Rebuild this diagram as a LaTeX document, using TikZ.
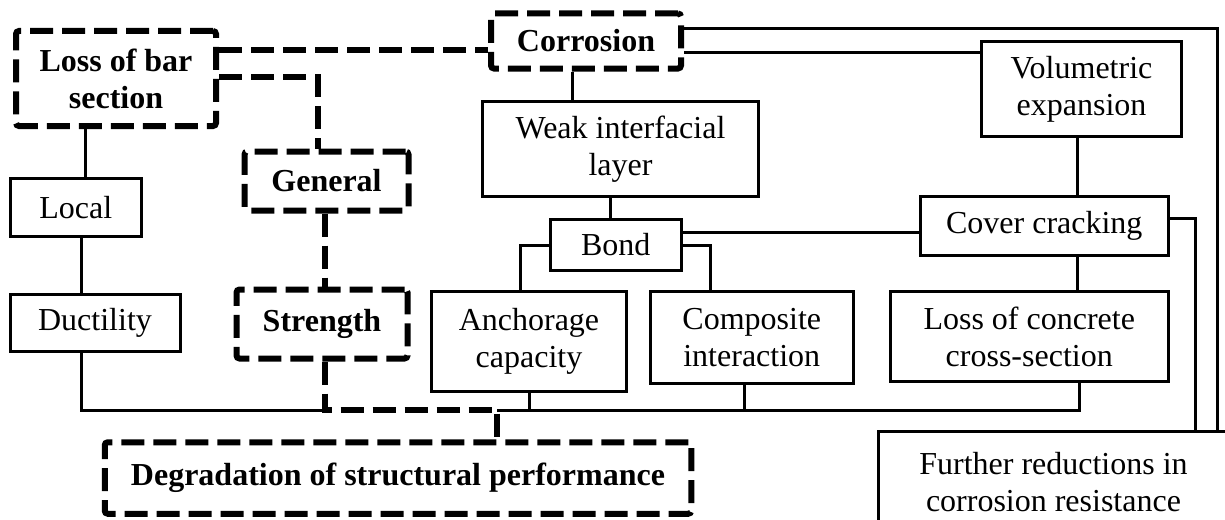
\documentclass[tikz,border=0pt]{standalone}
\usepackage{fontspec}
\setmainfont{Liberation Serif}
\tikzset{
  sbox/.style={draw, line width=3pt, inner sep=0pt, align=center, font=\fontsize{32}{37}\selectfont},
  dbox/.style={draw, line width=6pt, dash pattern=on 23pt off 9pt, rounded corners=3pt, inner sep=0pt, align=center, font=\fontsize{32}{37}\selectfont\bfseries},
  sl/.style={line width=3pt},
  dl/.style={line width=6pt, dash pattern=on 23pt off 9pt},
}
\begin{document}
\begin{tikzpicture}[x=1pt,y=-1pt]
\useasboundingbox (0,0) rectangle (1225,519);
\clip (0,0) rectangle (1225,519);
% nodes
\node[dbox, minimum width=200pt, minimum height=95pt] (loss) at (116,78.5) {Loss of bar\\section};
\node[dbox, minimum width=164pt, minimum height=59pt] (gen) at (326.5,181) {General};
\node[dbox, minimum width=171pt, minimum height=69pt] (str) at (322,324) {Strength};
\node[dbox, minimum width=586.5pt, minimum height=71.5pt] (deg) at (398,478) {Degradation of structural performance};
\node[dbox, minimum width=190pt, minimum height=55pt] (corr) at (586,41) {Corrosion};
\node[sbox, minimum width=131.5pt, minimum height=58pt] (local) at (75.75,207.5) {Local};
\node[sbox, minimum width=170pt, minimum height=57pt] (duct) at (95,323) {Ductility};
\node[sbox, minimum width=276pt, minimum height=95.5pt] (weak) at (620.5,148.75) {Weak interfacial\\layer};
\node[sbox, minimum width=131.5pt, minimum height=51.5pt] (bond) at (615.75,244.75) {Bond};
\node[sbox, minimum width=195pt, minimum height=100.5pt] (anch) at (529,341.25) {Anchorage\\capacity};
\node[sbox, minimum width=203.5pt, minimum height=92.5pt] (comp) at (751.75,337.25) {Composite\\interaction};
\node[sbox, minimum width=278.5pt, minimum height=90pt] (lcc) at (1029.25,336.5) {Loss of concrete\\cross-section};
\node[sbox, minimum width=200pt, minimum height=95pt] (vol) at (1081.5,89) {Volumetric\\expansion};
\node[sbox, minimum width=248.5pt, minimum height=58.5pt] (cover) at (1044.25,225.75) {Cover cracking};
\node[sbox, minimum width=350pt, minimum height=100.5pt] (fur) at (1053.5,481.75) {Further reductions in\\corrosion resistance};
% helper coordinates
\coordinate (ya) at (0,50);
\coordinate (jg) at (318,77);
\coordinate (xs) at (325,0);
\coordinate (jd) at (497,410);
\coordinate (xl) at (85.5,0);
\coordinate (xd) at (81,0);
\coordinate (yb) at (0,410);
\coordinate (xc) at (1079,0);
\coordinate (xcp) at (744.5,0);
\coordinate (xw) at (572,0);
\coordinate (xb) at (610,0);
\coordinate (ybl) at (0,245);
\coordinate (xal) at (520,0);
\coordinate (xcr) at (710,0);
\coordinate (ybc) at (0,232);
\coordinate (yt) at (0,29);
\coordinate (yv) at (0,53);
\coordinate (xo) at (1217,0);
\coordinate (xv) at (1077,0);
\coordinate (yc) at (0,218);
\coordinate (xi) at (1195,0);
% dashed connectors
\draw[dl] (loss.east |- ya) -- (corr.west |- ya);
\draw[dl] (loss.east |- jg) -| (gen.north -| jg);
\draw[dl] (gen.south -| xs) -- (str.north -| xs);
\draw[dl] (str.south -| xs) |- (jd) -- (deg.north -| jd);
% solid connectors
\draw[sl] (loss.south -| xl) -- (local.north -| xl);
\draw[sl] (local.south -| xd) -- (duct.north -| xd);
\draw[sl] (duct.south -| xd) |- (xs |- yb);
\draw[sl] (jd) -| (lcc.south -| xc);
\draw[sl] (anch.south) -- (anch.south |- yb);
\draw[sl] (comp.south -| xcp) -- (xcp |- yb);
\draw[sl] (corr.south -| xw) -- (weak.north -| xw);
\draw[sl] (weak.south -| xb) -- (bond.north -| xb);
\draw[sl] (bond.west |- ybl) -| (anch.north -| xal);
\draw[sl] (bond.east |- ybl) -| (comp.north -| xcr);
\draw[sl] (bond.east |- ybc) -- (cover.west |- ybc);
\draw[sl] (corr.east |- yt) -| (fur.north -| xo);
\draw[sl] (corr.east |- yv) -- (vol.west |- yv);
\draw[sl] (vol.south -| xv) -- (cover.north -| xv);
\draw[sl] (cover.east |- yc) -| (fur.north -| xi);
\draw[sl] (cover.south -| xv) -- (lcc.north -| xv);
\end{tikzpicture}
\end{document}
